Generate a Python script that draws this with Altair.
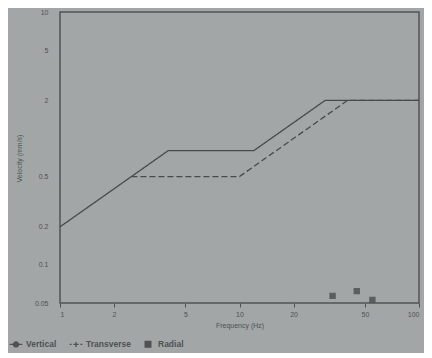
import altair as alt
import pandas as pd

# --- data ---
vertical_freq = [1, 4, 12, 30, 100]
vertical_vel = [0.2, 0.8, 0.8, 2, 2]

transverse_freq = [2.5, 10, 40, 100]
transverse_vel = [0.5, 0.5, 2, 2]

radial_freq = [33, 45, 55]
radial_vel = [0.057, 0.062, 0.053]

x_ticks = [1, 2, 5, 10, 20, 50, 100]
y_ticks = [0.05, 0.1, 0.2, 0.5, 2, 5, 10]

series_names = ["Vertical", "Transverse", "Radial"]

lines = pd.concat([
    pd.DataFrame({"freq": vertical_freq, "vel": vertical_vel, "series": "Vertical", "order": range(len(vertical_freq))}),
    pd.DataFrame({"freq": transverse_freq, "vel": transverse_vel, "series": "Transverse", "order": range(len(transverse_freq))}),
])
radial = pd.DataFrame({"freq": radial_freq, "vel": radial_vel, "series": "Radial"})

INK = "#4e5252"
FONT = "Liberation Sans"

x_enc = alt.X("freq:Q", scale=alt.Scale(type="log", domain=[1, 100], nice=False),
              axis=alt.Axis(values=x_ticks, format="~g", title="Frequency (Hz)",
                            grid=False, domain=False, tickSize=4, tickColor=INK,
                            labelFontSize=7, labelColor=INK, labelPadding=3,
                            titleFontSize=7, titleColor=INK, titleFontWeight="normal",
                            titlePadding=4, labelFont=FONT, titleFont=FONT))
y_enc = alt.Y("vel:Q", scale=alt.Scale(type="log", domain=[0.05, 10], nice=False),
              axis=alt.Axis(values=y_ticks, format="~g", title="Velocity (mm/s)",
                            grid=False, domain=False, ticks=False,
                            labelFontSize=7, labelColor=INK, labelPadding=12,
                            titleFontSize=7, titleColor=INK, titleFontWeight="normal",
                            titleX=-38, titleY=146, labelFont=FONT, titleFont=FONT))

line_layer = alt.Chart(lines).mark_line(color="#474b4b", strokeWidth=1.3).encode(
    x=x_enc, y=y_enc,
    detail="series:N",
    order="order:Q",
    strokeDash=alt.StrokeDash("series:N",
                              scale=alt.Scale(domain=["Vertical", "Transverse"], range=[[1, 0], [6, 3]]),
                              legend=None),
)

shape_paths = [
    "M-1,0H-0.4M0.4,0H1M-0.4,0A0.4,0.4 0 1,1 0.4,0A0.4,0.4 0 1,1 -0.4,0Z",
    "M-1,0H-0.7M-0.4,0H0.4M0.7,0H1M0,-0.4V0.4",
    "M-0.45,-0.45H0.45V0.45H-0.45Z",
]

legend_spec = alt.Legend(orient="none", direction="horizontal", title=None,
                         legendX=-51, legendY=325,
                         symbolSize=160, symbolStrokeWidth=1.3, symbolOpacity=1,
                         labelFontSize=8.5, labelFont=FONT,
                         labelFontWeight="bold", labelColor=INK, labelOffset=3,
                         columnPadding=10)

point_layer = alt.Chart(radial).mark_point(
    filled=False, strokeWidth=1.2, size=130, opacity=0.85
).encode(
    x="freq:Q", y="vel:Q",
    shape=alt.Shape("series:N", scale=alt.Scale(domain=series_names, range=shape_paths),
                    legend=legend_spec),
    stroke=alt.Stroke("series:N", scale=alt.Scale(domain=series_names, range=[INK, INK, INK]),
                      legend=legend_spec),
    fill=alt.Fill("series:N", scale=alt.Scale(domain=series_names, range=[INK, INK, INK]),
                  legend=legend_spec),
)

chart = alt.layer(line_layer, point_layer).properties(
    width=359, height=291,
    autosize=alt.AutoSizeParams(type="none"),
    padding={"left": 52, "top": 4, "right": 5, "bottom": 50},
    background="#a2a6a6",
).configure_view(stroke="#505454", strokeWidth=1.5)

chart.save("out.html", embed_options={"renderer": "svg", "actions": False})
